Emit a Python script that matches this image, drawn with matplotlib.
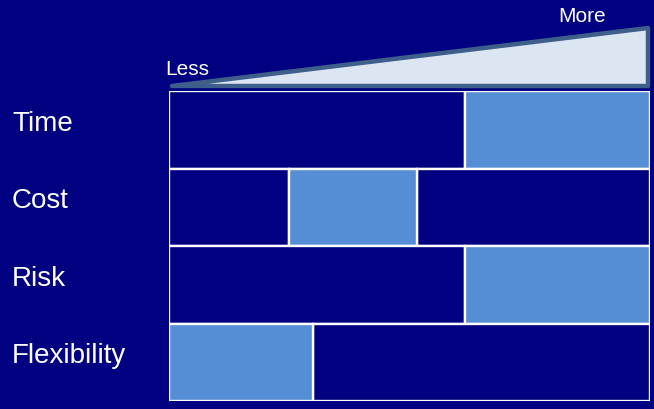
import matplotlib.pyplot as plt
from matplotlib.patches import Polygon
from matplotlib.transforms import blended_transform_factory

plt.rcParams['font.family'] = ['Liberation Sans', 'DejaVu Sans']

# rows of the comparison and where the highlighted band sits on a 0-100 scale
factors = ['Time', 'Cost', 'Risk', 'Flexibility']
band_start = [61.5, 25, 61.5, 0]
band_end = [100, 51.5, 100, 30]
scale_max = 100
scale_labels = ['Less', 'More']

navy = '#000080'
band_color = '#558ED5'

fig = plt.figure(figsize=(6.54, 4.10), dpi=100, facecolor=navy)

# grid of rows
ax = fig.add_axes([169 / 654, 8 / 410, 481 / 654, 310 / 410])
ax.set_facecolor(navy)
for i, (s, e) in enumerate(zip(band_start, band_end)):
    # dark cells either side of the band, then the band itself
    if s > 0:
        ax.barh(i, s, left=0, height=1, color=navy, edgecolor='white', linewidth=1.7)
    if e < scale_max:
        ax.barh(i, scale_max - e, left=e, height=1, color=navy, edgecolor='white', linewidth=1.7)
    ax.barh(i, e - s, left=s, height=1, color=band_color, edgecolor='white', linewidth=1.7)
ax.set_xlim(0, scale_max)
ax.set_ylim(len(factors) - 0.5, -0.5)
ax.axis('off')

# row labels at the left edge of the figure, baseline on the row centre
trans = blended_transform_factory(fig.transFigure, ax.transData)
for i, name in enumerate(factors):
    ax.text(12 / 654, i, name, transform=trans, color='white', fontsize=20,
            ha='left', va='baseline')

# wedge showing the direction of the scale
ax_scale = fig.add_axes([169 / 654, 320 / 410, 481 / 654, 64 / 410])
ax_scale.set_xlim(0, scale_max)
ax_scale.set_ylim(-0.05, 1.05)
ax_scale.axis('off')
wedge = Polygon([(0.6, 0), (scale_max - 0.4, 0), (scale_max - 0.4, 1)], closed=True,
                facecolor='#DCE6F2', edgecolor='#3E5F8A', linewidth=3.2,
                joinstyle='round', clip_on=False)
ax_scale.add_patch(wedge)

fig.text(187 / 654, 1 - 75 / 410, scale_labels[0], color='white', fontsize=15,
         ha='center', va='baseline')
fig.text(582 / 654, 1 - 22 / 410, scale_labels[1], color='white', fontsize=15,
         ha='center', va='baseline')

fig.savefig('out.png', dpi=100, facecolor=navy)
